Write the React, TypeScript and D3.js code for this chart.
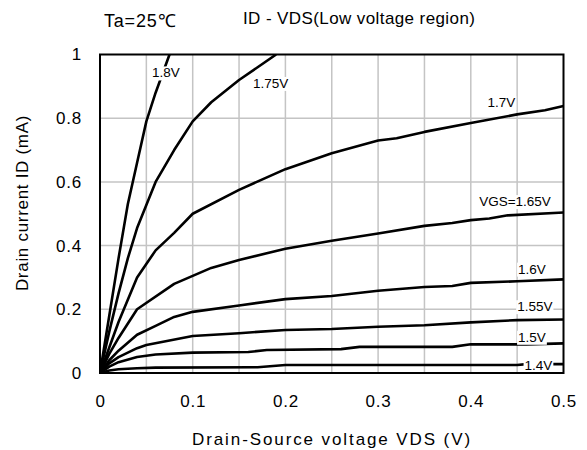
import React, { useRef, useEffect } from 'react';
import * as d3 from 'd3';

type Pt = [number, number];

// VDS (V), ID (mA)
const vgs180: Pt[] = [[0, 0], [0.01, 0.18], [0.02, 0.36], [0.03, 0.53], [0.04, 0.66], [0.05, 0.79], [0.06, 0.88], [0.07, 0.96], [0.075, 1.0]];
const vgs175: Pt[] = [[0, 0], [0.01, 0.13], [0.02, 0.25], [0.03, 0.36], [0.04, 0.455], [0.06, 0.6], [0.08, 0.7], [0.1, 0.79], [0.12, 0.85], [0.15, 0.92], [0.19, 1.0]];
const vgs170: Pt[] = [[0, 0], [0.01, 0.08], [0.02, 0.16], [0.04, 0.3], [0.06, 0.385], [0.08, 0.44], [0.1, 0.5], [0.15, 0.575], [0.2, 0.64], [0.25, 0.69], [0.3, 0.73], [0.32, 0.737], [0.35, 0.757], [0.4, 0.785], [0.45, 0.812], [0.48, 0.825], [0.5, 0.838]];
const vgs165: Pt[] = [[0, 0], [0.01, 0.06], [0.02, 0.11], [0.04, 0.2], [0.08, 0.28], [0.12, 0.33], [0.15, 0.355], [0.2, 0.39], [0.25, 0.415], [0.3, 0.438], [0.35, 0.462], [0.38, 0.471], [0.4, 0.48], [0.42, 0.485], [0.44, 0.495], [0.5, 0.504]];
const vgs160: Pt[] = [[0, 0], [0.01, 0.04], [0.02, 0.07], [0.04, 0.12], [0.06, 0.148], [0.08, 0.176], [0.1, 0.192], [0.15, 0.212], [0.2, 0.232], [0.25, 0.242], [0.3, 0.258], [0.35, 0.27], [0.38, 0.273], [0.4, 0.283], [0.45, 0.288], [0.5, 0.294]];
const vgs155: Pt[] = [[0, 0], [0.01, 0.03], [0.02, 0.05], [0.04, 0.078], [0.05, 0.088], [0.1, 0.116], [0.15, 0.125], [0.2, 0.135], [0.25, 0.138], [0.3, 0.145], [0.35, 0.15], [0.4, 0.159], [0.45, 0.166], [0.5, 0.168]];
const vgs150: Pt[] = [[0, 0], [0.01, 0.02], [0.02, 0.034], [0.04, 0.05], [0.06, 0.058], [0.1, 0.064], [0.16, 0.066], [0.18, 0.072], [0.26, 0.075], [0.28, 0.082], [0.38, 0.082], [0.4, 0.09], [0.46, 0.09], [0.5, 0.093]];
const vgs140: Pt[] = [[0, 0], [0.01, 0.008], [0.02, 0.012], [0.04, 0.015], [0.06, 0.017], [0.17, 0.018], [0.2, 0.025], [0.45, 0.025], [0.46, 0.028], [0.5, 0.028]];

const seriesList = [vgs180, vgs175, vgs170, vgs165, vgs160, vgs155, vgs150, vgs140];

// curve labels: text and the data point where the text starts (baseline)
const curveLabels = ['1.8V', '1.75V', '1.7V', 'VGS=1.65V', '1.6V', '1.55V', '1.5V', '1.4V'];
const labelAt: Pt[] = [[0.056, 0.928], [0.165, 0.895], [0.418, 0.835], [0.409, 0.524], [0.451, 0.312], [0.45, 0.194], [0.451, 0.098], [0.458, 0.01]];

const xTicks = [0, 0.1, 0.2, 0.3, 0.4, 0.5];
const yTicks = [0, 0.2, 0.4, 0.6, 0.8, 1];
const xGrid = d3.range(1, 10).map(i => i * 0.05);
const yGrid = [0.2, 0.4, 0.6, 0.8];

const title = 'ID - VDS(Low voltage region)';
const condition = 'Ta=25℃';
const xTitle = 'Drain-Source voltage VDS (V)';
const yTitle = 'Drain current ID (mA)';

const chartStyle = {
  margin: { top: 54.5, left: 100, bottom: 77, right: 23.5 },
  font: '"Liberation Sans", Arial, sans-serif',
  gridColor: '#c4c4c4',
  lineWidth: 2.6,
};

const width = 587;
const height = 450;

const App: React.FC = () => {
  const svgRef = useRef<SVGSVGElement>(null);

  useEffect(() => {
    if (!svgRef.current) return;
    const m = chartStyle.margin;
    const svg = d3.select(svgRef.current);
    svg.selectAll('*').remove();

    const x = d3.scaleLinear().domain([0, 0.5]).range([m.left, width - m.right]);
    const y = d3.scaleLinear().domain([0, 1]).range([height - m.bottom, m.top]);

    svg.append('rect').attr('width', width).attr('height', height).attr('fill', 'white');

    svg.append('defs').append('clipPath').attr('id', 'plot-clip')
      .append('rect')
      .attr('x', x(0)).attr('y', y(1))
      .attr('width', x(0.5) - x(0)).attr('height', y(0) - y(1));

    // gridlines
    const grid = svg.append('g');
    grid.selectAll('.vg').data(xGrid).join('line')
      .attr('x1', d => x(d)).attr('x2', d => x(d))
      .attr('y1', y(0)).attr('y2', y(1))
      .attr('stroke', chartStyle.gridColor).attr('stroke-width', 1.5);
    grid.selectAll('.hg').data(yGrid).join('line')
      .attr('y1', d => y(d)).attr('y2', d => y(d))
      .attr('x1', x(0)).attr('x2', x(0.5))
      .attr('stroke', chartStyle.gridColor).attr('stroke-width', 1.5);

    // curves
    const line = d3.line<Pt>().x(d => x(d[0])).y(d => y(d[1]));
    svg.append('g').attr('clip-path', 'url(#plot-clip)')
      .selectAll('path').data(seriesList).join('path')
      .attr('d', d => line(d))
      .attr('fill', 'none')
      .attr('stroke', 'black')
      .attr('stroke-width', chartStyle.lineWidth)
      .attr('stroke-linejoin', 'round');

    // curve labels with white boxes
    const lg = svg.append('g')
      .style('font-family', chartStyle.font)
      .style('font-size', '13.5px');
    curveLabels.forEach((t, i) => {
      const g = lg.append('g');
      const bg = g.append('rect').attr('fill', 'white');
      const txt = g.append('text')
        .attr('x', x(labelAt[i][0]))
        .attr('y', y(labelAt[i][1]))
        .attr('fill', 'black')
        .text(t);
      const bb = (txt.node() as SVGTextElement).getBBox();
      bg.attr('x', bb.x - 1).attr('y', bb.y + 1)
        .attr('width', bb.width + 2).attr('height', bb.height - 1);
    });

    // frame
    svg.append('rect')
      .attr('x', x(0)).attr('y', y(1))
      .attr('width', x(0.5) - x(0)).attr('height', y(0) - y(1))
      .attr('fill', 'none').attr('stroke', 'black').attr('stroke-width', 2);

    // axes (labels only)
    const xAxis = d3.axisBottom(x).tickValues(xTicks).tickSize(0).tickPadding(22)
      .tickFormat(d => String(d));
    svg.append('g')
      .attr('transform', `translate(0,${y(0)})`)
      .call(xAxis)
      .call(g => g.select('.domain').remove())
      .selectAll('text')
      .style('font-family', chartStyle.font)
      .style('font-size', '17px')
      .style('letter-spacing', '0.8px')
      .attr('fill', 'black');

    const yAxis = d3.axisLeft(y).tickValues(yTicks).tickSize(0).tickPadding(18)
      .tickFormat(d => String(d));
    svg.append('g')
      .attr('transform', `translate(${x(0)},0)`)
      .call(yAxis)
      .call(g => g.select('.domain').remove())
      .selectAll('text')
      .style('font-family', chartStyle.font)
      .style('font-size', '17px')
      .style('letter-spacing', '0.8px')
      .attr('fill', 'black');

    const txtStyle = (s: d3.Selection<SVGTextElement, unknown, null, undefined>) =>
      s.style('font-family', chartStyle.font).style('font-size', '17px').attr('fill', 'black');

    svg.append('text').attr('x', 332).attr('y', 445).attr('text-anchor', 'middle')
      .call(txtStyle).style('letter-spacing', '1.9px').text(xTitle);
    svg.append('text')
      .attr('transform', `translate(28,203) rotate(-90)`)
      .attr('text-anchor', 'middle')
      .call(txtStyle).style('letter-spacing', '0.7px').text(yTitle);
    svg.append('text').attr('x', 104).attr('y', 27)
      .call(txtStyle).style('font-size', '18px').style('letter-spacing', '0.8px').text(condition);
    svg.append('text').attr('x', 243).attr('y', 24)
      .call(txtStyle).style('letter-spacing', '0.4px').text(title);
  }, []);

  return (
    <svg
      ref={svgRef}
      width={width}
      height={height}
      style={{ position: 'absolute', left: 0, top: 0, background: 'white' }}
    />
  );
};

export default App;
